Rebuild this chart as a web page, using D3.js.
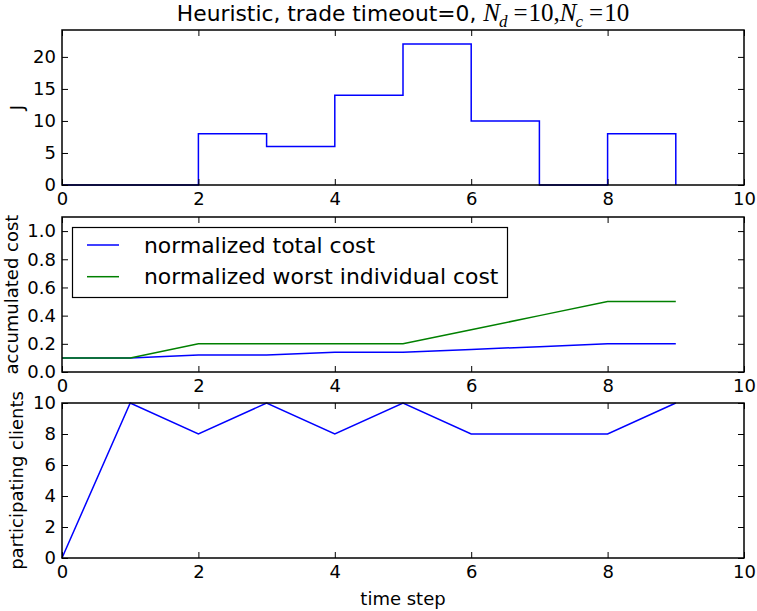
<!DOCTYPE html>
<html>
<head>
<meta charset="utf-8">
<script src="https://cdn.jsdelivr.net/npm/d3@7"></script>
<style>
  html, body { margin: 0; padding: 0; background: #fff; }
  svg { display: block; }
  text { font-family: "DejaVu Sans", sans-serif; fill: #000; }
</style>
</head>
<body>
<svg id="chart" width="757" height="611"></svg>
<script>
// ---- data ----
const timeSteps = [0, 1, 2, 3, 4, 5, 6, 7, 8, 9];
const jValues = [0, 0, 8, 6, 14, 22, 10, 0, 8, 0];
const totalCost = [0.1, 0.1, 0.12, 0.12, 0.14, 0.14, 0.16, 0.18, 0.2, 0.2];
const worstCost = [0.1, 0.1, 0.2, 0.2, 0.2, 0.2, 0.3, 0.4, 0.5, 0.5];
const clients = [0, 10, 8, 10, 8, 10, 8, 8, 8, 10];
const xTicks = [0, 2, 4, 6, 8, 10];
const jTicks = [0, 5, 10, 15, 20];
const costTicks = [0, 0.2, 0.4, 0.6, 0.8, 1.0];
const clientTicks = [0, 2, 4, 6, 8, 10];
const legendLabels = ["normalized total cost", "normalized worst individual cost"];
const seriesColors = ["#0000ff", "#008000"];

// ---- layout ----
const svg = d3.select("#chart");
const left = 62, right = 744;
const x = d3.scaleLinear().domain([0, 10]).range([left, right]);
const panels = [
  { top: 30, bottom: 185, ymax: 24.2, ticks: jTicks, fmt: d3.format("d"), label: "J", labelX: 23 },
  { top: 217, bottom: 372, ymax: 1.1, ticks: costTicks, fmt: d3.format(".1f"), label: "accumulated cost", labelX: 17.5 },
  { top: 403, bottom: 558, ymax: 10, ticks: clientTicks, fmt: d3.format("d"), label: "participating clients", labelX: 23 }
];

panels.forEach(p => {
  p.y = d3.scaleLinear().domain([0, p.ymax]).range([p.bottom, p.top]);
});

function drawAxes(p) {
  const g = svg.append("g");
  const ab = g.append("g").attr("transform", `translate(0,${p.bottom})`)
    .call(d3.axisBottom(x).tickValues(xTicks).tickFormat(d3.format("d")).tickSizeInner(-6).tickSizeOuter(0).tickPadding(7.7));
  const at = g.append("g").attr("transform", `translate(0,${p.top})`)
    .call(d3.axisTop(x).tickValues(xTicks).tickFormat("").tickSizeInner(-6).tickSizeOuter(0));
  const al = g.append("g").attr("transform", `translate(${left},0)`)
    .call(d3.axisLeft(p.y).tickValues(p.ticks).tickFormat(p.fmt).tickSizeInner(-6).tickSizeOuter(0).tickPadding(6));
  const ar = g.append("g").attr("transform", `translate(${right},0)`)
    .call(d3.axisRight(p.y).tickValues(p.ticks).tickFormat("").tickSizeInner(-6).tickSizeOuter(0));
  [ab, at, al, ar].forEach(a => {
    a.select(".domain").remove();
    a.selectAll(".tick line").attr("stroke", "#000").attr("stroke-width", 1);
    a.selectAll(".tick text").attr("font-size", 18).attr("font-family", "DejaVu Sans").attr("fill", "#000");
  });
  g.append("rect")
    .attr("x", left).attr("y", p.top)
    .attr("width", right - left).attr("height", p.bottom - p.top)
    .attr("fill", "none").attr("stroke", "#000").attr("stroke-width", 1.5);
  const cy = (p.top + p.bottom) / 2;
  g.append("text")
    .attr("transform", `translate(${p.labelX},${cy}) rotate(-90)`)
    .attr("text-anchor", "middle")
    .attr("font-size", 18)
    .text(p.label);
}

// ---- panel 1: J step line ----
const p1 = panels[0];
svg.append("path")
  .datum(timeSteps.map((t, i) => [t, jValues[i]]))
  .attr("fill", "none").attr("stroke", seriesColors[0]).attr("stroke-width", 1.5)
  .attr("d", d3.line().x(d => x(d[0])).y(d => p1.y(d[1])).curve(d3.curveStepAfter));
drawAxes(p1);

// ---- panel 2: costs ----
const p2 = panels[1];
[totalCost, worstCost].forEach((s, k) => {
  svg.append("path")
    .datum(timeSteps.map((t, i) => [t, s[i]]))
    .attr("fill", "none").attr("stroke", seriesColors[k]).attr("stroke-width", 1.5)
    .attr("d", d3.line().x(d => x(d[0])).y(d => p2.y(d[1])));
});
drawAxes(p2);

// legend
const lg = svg.append("g");
lg.append("rect").attr("x", 72.5).attr("y", 227.5).attr("width", 435).attr("height", 70)
  .attr("fill", "#fff").attr("stroke", "#000").attr("stroke-width", 1.2);
legendLabels.forEach((lab, i) => {
  const cy = 245 + i * 31.7;
  lg.append("line").attr("x1", 87).attr("x2", 119).attr("y1", cy).attr("y2", cy)
    .attr("stroke", seriesColors[i]).attr("stroke-width", 1.5);
  lg.append("text").attr("x", 144).attr("y", cy + 7.5).attr("font-size", 21.9).text(lab);
});

// ---- panel 3: clients ----
const p3 = panels[2];
svg.append("path")
  .datum(timeSteps.map((t, i) => [t, clients[i]]))
  .attr("fill", "none").attr("stroke", seriesColors[0]).attr("stroke-width", 1.5)
  .attr("d", d3.line().x(d => x(d[0])).y(d => p3.y(d[1])));
drawAxes(p3);

// x label
svg.append("text").attr("x", (left + right) / 2).attr("y", 605)
  .attr("text-anchor", "middle").attr("font-size", 18).text("time step");

// title
const title = svg.append("text").attr("x", (left + right) / 2).attr("y", 21)
  .attr("text-anchor", "middle").attr("font-size", 21.8).style("white-space", "pre");
title.append("tspan").text("Heuristic, trade timeout=0, ");
const mathFont = "Liberation Serif";
const mt = (txt, opts) => {
  const t = title.append("tspan").attr("font-family", mathFont).attr("font-size", opts.size || 25).text(txt);
  if (opts.italic) t.attr("font-style", "italic");
  if (opts.dy) t.attr("dy", opts.dy);
  if (opts.dx) t.attr("dx", opts.dx);
  return t;
};
mt("N", { italic: true });
mt("d", { italic: true, size: 17, dy: 6, dx: -1 });
mt("=", { dy: -6, dx: 6 });
mt("10", { dx: 1 });
mt(",", {});
mt("N", { italic: true });
mt("c", { italic: true, size: 17, dy: 6, dx: -1 });
mt("=", { dy: -6, dx: 6 });
mt("10", { dx: 1 });
</script>
</body>
</html>
